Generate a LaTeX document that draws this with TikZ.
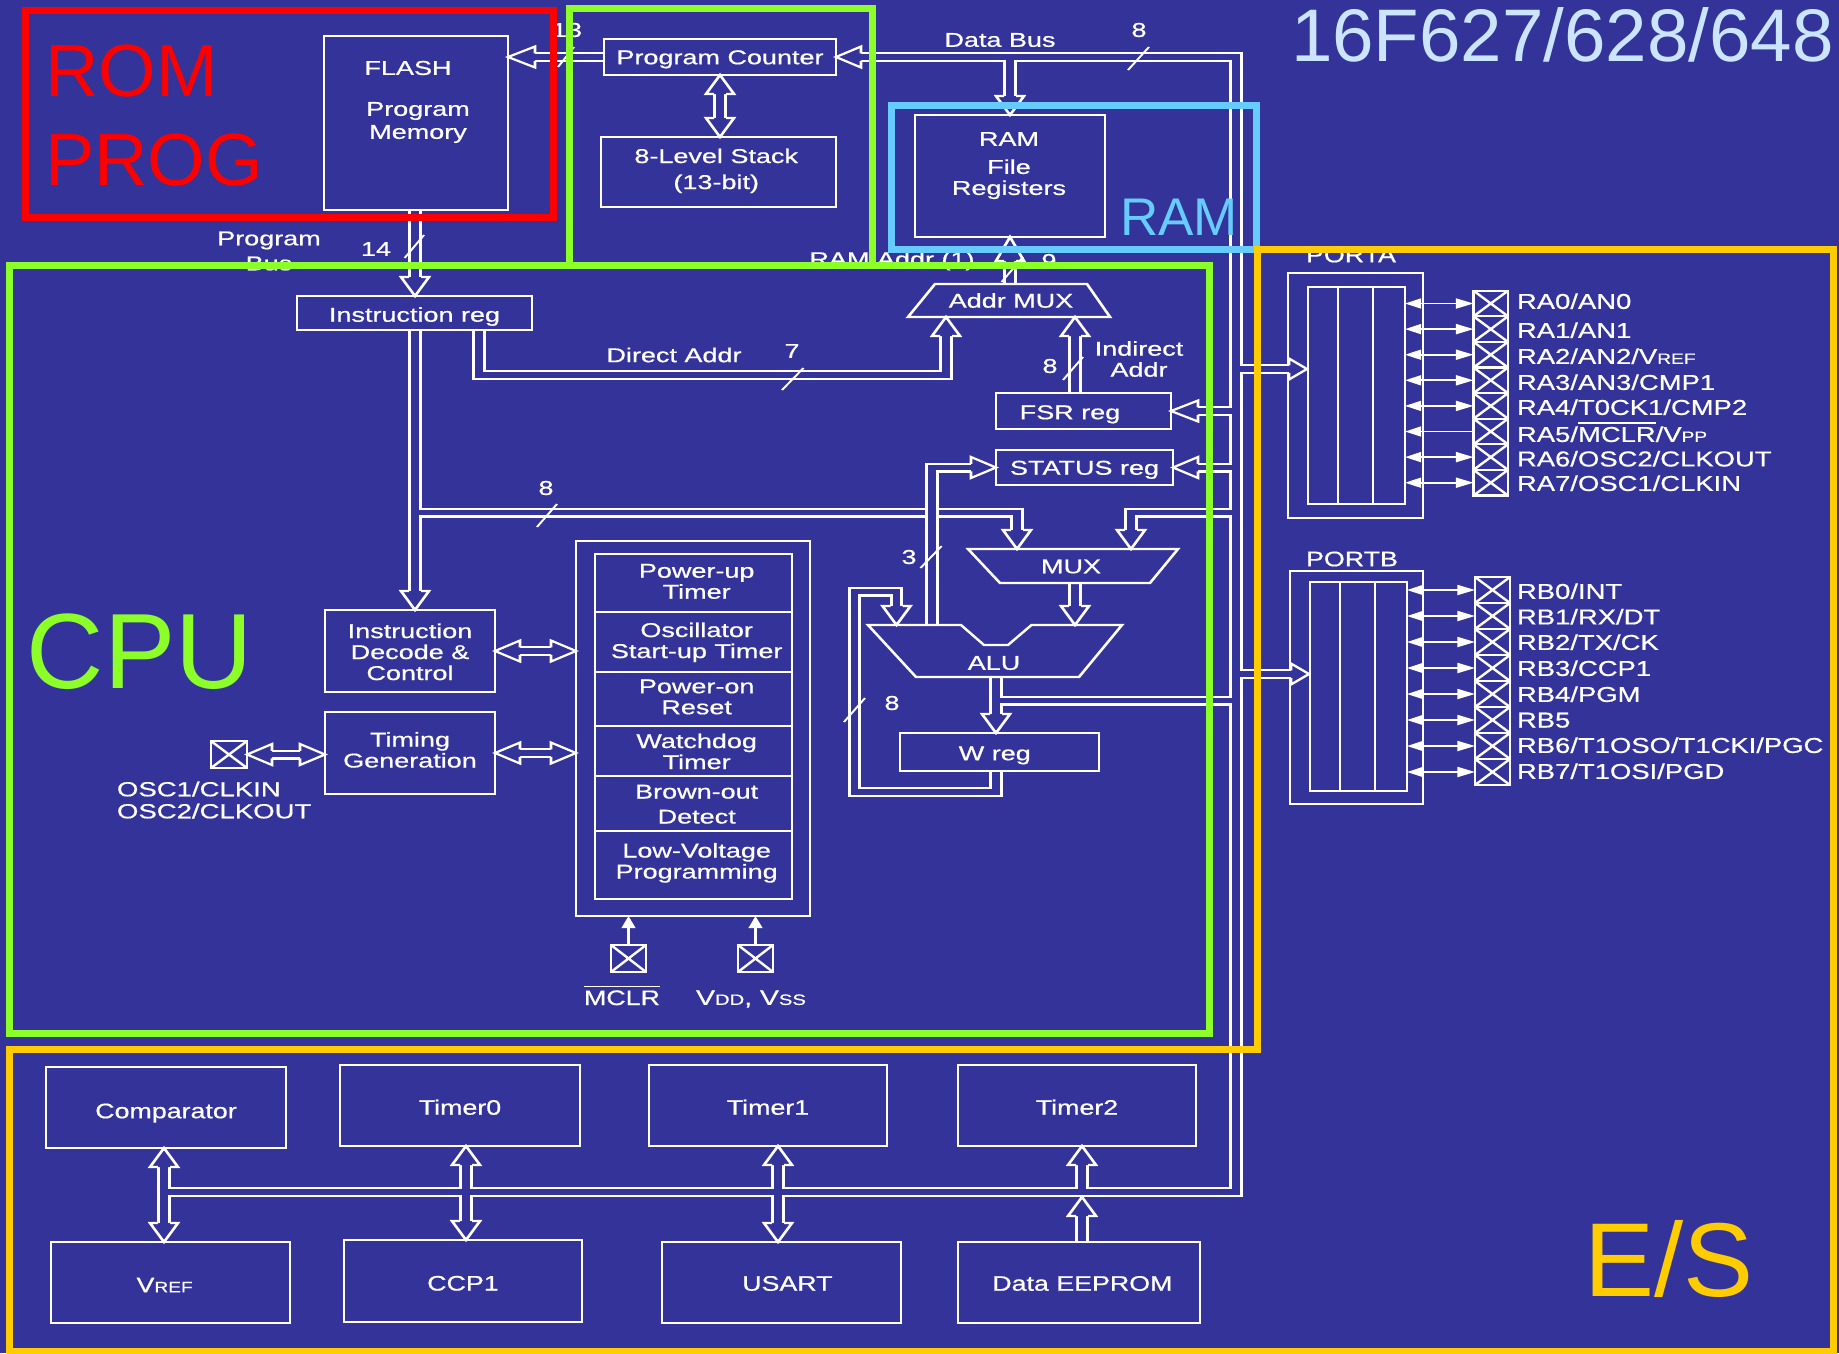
\documentclass[tikz,border=0pt]{standalone}
\usepackage{fontspec}
\setmainfont[FakeBold=0.6]{Liberation Sans}
\newfontfamily\wdfam[FakeStretch=0.945,FakeBold=0.6]{Liberation Sans}
\newfontfamily\bigf{Liberation Sans}
\usetikzlibrary{arrows.meta,calc}
\definecolor{bgc}{RGB}{51,51,153}
\definecolor{fred}{RGB}{255,0,0}
\definecolor{fgreen}{RGB}{140,255,40}
\definecolor{fblue}{RGB}{102,204,255}
\definecolor{forange}{RGB}{255,204,0}
\definecolor{ftitle}{RGB}{204,229,255}
\newcommand\xs{1.35}
\newcommand\wf{\wdfam\fontsize{21}{22}\selectfont}
\newcommand\sm[1]{{\fontsize{15}{15}\selectfont #1}}
\newcommand\ovl[1]{\vbox{\hrule height 1.6pt \kern 3pt \hbox{#1}}}
% single line text whose capitals are centred, shifted down by the option
\newcommand\ct[2][0]{\raisebox{\dimexpr-7.2pt-#1pt\relax}[0pt][0pt]{#2}}
% several centred lines, shifted down by the option
\newcommand\ml[2][0]{\raisebox{\dimexpr-8pt-#1pt\relax}[0pt][0pt]{\begin{tabular}[c]{@{}c@{}}#2\end{tabular}}}
\newcommand\rw[2][0]{\hspace*{4.7pt}\ml[#1]{#2}}
\tikzset{
  box/.style={draw=white,line width=2.1pt,inner sep=0pt,outer sep=0pt,text=white,align=center,font=\fontsize{20}{21}\selectfont},
  txt/.style={inner sep=0pt,outer sep=0pt,text=white,align=center,font=\fontsize{20}{21}\selectfont},
  pintxt/.style={inner sep=0pt,outer sep=0pt,text=white,anchor=west,yshift=-1.2pt,font=\wdfam\fontsize{21.5}{22}\selectfont},
  wire/.style={draw=white,line width=2.1pt,line join=miter},
  tickm/.style={draw=white,line width=1.6pt},
  buso/.style={draw=white,line width=10pt,line cap=butt,line join=miter},
  busi/.style={draw=bgc,line width=5.8pt,line cap=butt,line join=miter},
  head/.style={draw=white,fill=bgc,line width=2.1pt,line join=miter},
  pinarrow/.style={draw=white,line width=1.8pt,{Triangle[length=12pt,width=10pt]}-{Triangle[length=13pt,width=10pt]}},
  pinin/.style={draw=white,line width=1.8pt,{Triangle[length=12pt,width=10pt]}-},
  pinbig/.style={draw=white,line width=1.8pt,-{Triangle[length=12pt,width=10pt]}},
  frame/.style={line width=7pt,line join=miter},
  big/.style={inner sep=0pt,outer sep=0pt,anchor=base west}
}
\newcommand\bx[6]{%
  \pgfmathsetmacro\bw{(#4-#2)/\xs}\pgfmathsetmacro\bh{#5-#3}%
  \node[box,minimum width=\bw pt,minimum height=\bh pt] (#1) at ({(#2+#4)/2},{(#3+#5)/2}) {#6};}
\newcommand\bus[1]{\draw[buso] #1; \draw[busi] #1;}
\newcommand\hU[2][19]{\draw[head] (#2) ++(-6,#1) -- ++(-8,0) -- (#2) -- ++(14,#1) -- ++(-8,0);}
\newcommand\hD[2][19]{\draw[head] (#2) ++(-6,-#1) -- ++(-8,0) -- (#2) -- ++(14,-#1) -- ++(-8,0);}
\newcommand\hL[2][25]{\draw[head] (#2) ++(#1,-3.75) -- ++(0,-6.75) -- (#2) -- ++(#1,10.5) -- ++(0,-6.75);}
\newcommand\hR[2][25]{\draw[head] (#2) ++(-#1,-3.75) -- ++(0,-6.75) -- (#2) -- ++(-#1,10.5) -- ++(0,-6.75);}
\newcommand\pin[5]{%
  \pgfmathsetmacro\bw{(#4-#2)/\xs}\pgfmathsetmacro\bh{#5-#3}%
  \node[box,minimum width=\bw pt,minimum height=\bh pt] (#1) at ({(#2+#4)/2},{(#3+#5)/2}) {};
  \draw[wire] (#1.north west) -- (#1.south east) (#1.north east) -- (#1.south west);}
\begin{document}
\begin{tikzpicture}[x=1pt,y=-1pt]
\path[use as bounding box,fill=bgc] (0,0) rectangle (1839,1353);
\begin{scope}[transform canvas={xscale=1.35},x=0.74074pt]
% top boxes
\bx{flash}{324}{36}{508}{210}{}
\node[txt] (flasht) at (408,68) {FLASH};
\node[txt] (flashm) at (418,122.5) {Program\\[2pt]Memory};
\bx{pc}{604}{39}{836}{75}{\ct{Program Counter}}
\bx{stack}{601}{137}{836}{207}{\hspace*{0pt}\ml[-3]{8-Level Stack\\[5pt](13-bit)}\hspace*{3.4pt}}
\bx{ram}{915}{115}{1105}{237}{}
\node[txt] (ramt) at (1009,165.6) {RAM\\[7pt]File\\Registers};
\bx{ir}{297}{296}{532}{330}{\ct[1.5]{Instruction reg}}
\bx{fsr}{996}{393}{1171}{429}{\ct[1]{FSR reg}\hspace*{20pt}}
\bx{status}{996}{450}{1173}{485}{\ct{STATUS reg}}
\bx{wreg}{900}{733}{1099}{771}{\ct[1]{W reg}\hspace*{7pt}}
\bx{decode}{325}{610}{495}{692}{\ml[1]{Instruction\\Decode \&\\Control}}
\bx{timing}{325}{712}{495}{794}{\ml[-3]{Timing\\Generation}}
\bx{sys}{576}{541}{810}{916}{}
\bx{r1}{595}{554}{792}{612}{\rw[-1.8]{Power-up\\Timer}}
\bx{r2}{595}{612}{792}{672}{\rw[-1.5]{Oscillator\\Start-up Timer}}
\bx{r3}{595}{672}{792}{726}{\rw[-2.3]{Power-on\\Reset}}
\bx{r4}{595}{726}{792}{776}{\rw[0.5]{Watchdog\\Timer}}
\bx{r5}{595}{776}{792}{831}{\rw[0.5]{Brown-out\\[4pt]Detect}}
\bx{r6}{595}{831}{792}{899}{\rw[-4]{Low-Voltage\\Programming}}
% ports
\bx{pao}{1288}{273}{1423}{518}{}
\bx{pbo}{1290}{571}{1423}{804}{}
\bx{pai}{1308}{287}{1405}{504}{}
\bx{pbi}{1310}{582}{1407}{791}{}
\draw[wire] (1338,287) -- (1338,504) (1373,287) -- (1373,504);
\draw[wire] (1340,582) -- (1340,791) (1375,582) -- (1375,791);
\node[txt,font=\wf] (patxt) at (1351,255) {PORTA};
\node[txt,font=\wf] (pbtxt) at (1352,559) {PORTB};
% bottom boxes
\bx{comp}{46}{1067}{286}{1148}{\wf\ct[3.5]{Comparator}}
\bx{t0}{340}{1065}{580}{1146}{\wf\ct[2]{Timer0}}
\bx{t1}{649}{1065}{887}{1146}{\wf\ct[2]{Timer1}}
\bx{t2}{958}{1065}{1196}{1146}{\wf\ct[2]{Timer2}}
\bx{vref}{51}{1242}{290}{1323}{\wf\ct[2.5]{V\sm{REF}}\hspace*{8.7pt}}
\bx{ccp}{344}{1240}{582}{1322}{\wf\ct[2.3]{CCP1}}
\bx{usart}{662}{1242}{901}{1323}{\wf\hspace*{8.7pt}\ct[1]{USART}}
\bx{eep}{958}{1242}{1200}{1323}{\wf\hspace*{5pt}\ct[1]{Data EEPROM}}
% named points
\coordinate (dbus) at (1236,0);
\coordinate (ibus) at (415,0);
\coordinate (ybot) at (0,1192);
\coordinate (yalu) at (0,700.5);
\coordinate (y8) at (0,512.5);
\coordinate (tRAM) at (1010,115);
\coordinate (tRAMb) at (1010,237);
\coordinate (tMA) at (946,317);
\coordinate (tMB) at (1075,317);
\coordinate (tML) at (1017,549);
\coordinate (tMR) at (1131,549);
\coordinate (tAL) at (896.5,625);
\coordinate (tAR) at (1075,625);
\coordinate (tW) at (996,733);
\coordinate (aO) at (996,677);
\coordinate (tPA) at (1307,369);
\coordinate (tPB) at (1309,674);
\coordinate (tCmp) at (164,1148);
\coordinate (tVr) at (164,1242);
\coordinate (tT0) at (466,1146);
\coordinate (tCC) at (466,1240);
\coordinate (tT1) at (778,1146);
\coordinate (tUS) at (778,1242);
\coordinate (tT2) at (1082,1146);
\coordinate (tEE) at (1082,1197);
\coordinate (tIR) at (415,296);
\coordinate (tDC) at (415,610);
\coordinate (tFL) at (508,57);
% buses
\bus{($(pc.west)$) -- ($(tFL)+(18,0)$)}
\bus{($(pc.south)+(0,15)$) -- ($(pc.south |- stack.north)+(0,-15)$)}
\bus{($(pc.east)+(18,0)$) -- (pc.east -| dbus) -- (dbus |- ybot) -- (tCmp |- ybot)
  (tRAM |- pc.east) -- ($(tRAM)+(0,-15)$)
  ($(fsr.east)+(18,0)$) -- (fsr.east -| dbus)
  ($(status.east)+(18,0)$) -- (status.east -| dbus)
  (dbus |- y8) -- (tMR |- y8) -- ($(tMR)+(0,-15)$)
  (dbus |- yalu) -- (tW |- yalu)
  (aO) -- ($(tW)+(0,-15)$)
  (dbus |- tPA) -- ($(tPA)+(-12,0)$)
  (dbus |- tPB) -- ($(tPB)+(-12,0)$)
  ($(tCmp)+(0,15)$) -- ($(tVr)+(0,-15)$)
  ($(tT0)+(0,15)$) -- ($(tCC)+(0,-15)$)
  ($(tT1)+(0,15)$) -- ($(tUS)+(0,-15)$)
  ($(tT2)+(0,15)$) -- (tT2 |- ybot)}
\bus{(tEE |- eep.north) -- ($(tEE)+(0,15)$)}
\bus{(tIR |- flash.south) -- ($(tIR)+(0,-15)$)}
\bus{(tIR |- ir.south) -- ($(tDC)+(0,-15)$)
  (ibus |- y8) -- (tML |- y8) -- ($(tML)+(0,-15)$)}
\bus{(479,330) -- (479,375) -- (tMA |- 0,375) -- ($(tMA)+(0,15)$)}
\bus{(tMB |- fsr.north) -- ($(tMB)+(0,15)$)}
\bus{(tRAMb |- 0,284) -- ($(tRAMb)+(0,15)$)}
\bus{(932,625) -- (932,467.5) -- ($(status.west)+(-18,0)$)}
\bus{(tAR |- 0,583) -- ($(tAR)+(0,-15)$)}
\bus{(tW |- wreg.south) -- (tW |- 0,792) -- (854.5,792) -- (854.5,591.5) -- (tAL |- 0,591.5) -- ($(tAL)+(0,-15)$)}
\bus{($(decode.east)+(18,0)$) -- ($(decode.east -| sys.west)+(-18,0)$)}
\bus{($(timing.east)+(18,0)$) -- ($(timing.east -| sys.west)+(-18,0)$)}
% heads
\hL[27]{tFL}
\hU{pc.south} \hD{pc.south |- stack.north}
\hL{pc.east}
\hD{tRAM} \hU[24]{tRAMb}
\hU{tMA} \hU{tMB}
\hL[27]{fsr.east} \hL{status.east}
\hR{status.west}
\hD{tML} \hD{tMR} \hD{tAL} \hD{tAR} \hD{tW} \hD{tIR} \hD{tDC}
\hR[18]{tPA} \hR[18]{tPB}
\hU{tCmp} \hD{tVr} \hU{tT0} \hD{tCC} \hU{tT1} \hD{tUS} \hU{tT2} \hU{tEE}
\hL{decode.east} \hR{decode.east -| sys.west}
\hL{timing.east} \hR{timing.east -| sys.west}
% re-stroke boxes over bus ends
\foreach \n in {flash,pc,stack,ram,ir,fsr,status,wreg,decode,timing,t0,t1,t2,comp,vref,ccp,usart,eep,sys}
  \draw[wire] (\n.south west) rectangle (\n.north east);
% muxes
\draw[wire] (908,317) -- (935,284) -- (1087,284) -- (1110,317) -- cycle;
\node[txt] (amux) at (1011,300.5) {Addr MUX};
\draw[wire] (968,549) -- (1178,549) -- (1150,583) -- (1000,583) -- cycle;
\node[txt] (mux) at (1071,566.5) {MUX};
\draw[wire] (868,625) -- (961,625) -- (984,645) -- (1008,645) -- (1031.5,625) -- (1122,625) -- (1079,677) -- (916,677) -- cycle;
\node[txt] (alu) at (994,663) {ALU};
% osc pin and system pins
\pin{posc}{211}{741}{247}{768}
\bus{($(posc.east)+(18,0)$) -- ($(posc.east -| timing.west)+(-18,0)$)}
\hL{posc.east} \hR{posc.east -| timing.west}
\node[txt,anchor=west,align=left,font=\fontsize{20.4}{22}\selectfont] (osct) at (117,800) {OSC1/CLKIN\\OSC2/CLKOUT};
\pin{pmclr}{611}{945}{646}{972}
\pin{pvdd}{738}{945}{773}{972}
\draw[pinbig] (pmclr.north) -- (pmclr.north |- sys.south);
\draw[pinbig] (pvdd.north) -- (pvdd.north |- sys.south);
\node[txt,font=\wf] (mclrt) at (622,995.5) {\ovl{MCLR}};
\node[txt,font=\fontsize{21}{22}\selectfont] (vddt) at (751,999) {V\sm{DD}, V\sm{SS}};
% PORTA pins
\foreach \i in {0,...,7}{
  \pgfmathsetmacro\ya{290.7+\i*25.6}\pgfmathsetmacro\yb{\ya+25.6}
  \pin{pa\i}{1473.5}{\ya}{1508}{\yb}
  \pgfmathsetmacro\yc{577+\i*26}\pgfmathsetmacro\yd{\yc+26}
  \pin{pb\i}{1475}{\yc}{1510}{\yd}
  \draw[pinarrow] (pb\i.west -| pbi.east) -- (pb\i.west);
}
\foreach \i in {0,1,2,3,4,6,7}
  \draw[pinarrow] (pa\i.west -| pai.east) -- (pa\i.west);
\draw[pinin] (pa5.west -| pai.east) -- (pa5.west);
\node[pintxt] (la0) at (1517,300) {RA0/AN0};
\node[pintxt] (la1) at (1517,329) {RA1/AN1};
\node[pintxt] (la2) at (1517,355) {RA2/AN2/V\sm{REF}};
\node[pintxt] (la3) at (1517,381) {RA3/AN3/CMP1};
\node[pintxt] (la4) at (1517,406) {RA4/T0CK1/CMP2};
\node[pintxt] (la5) at (1517,431) {RA5/\ovl{MCLR}/V\sm{PP}};
\node[pintxt] (la6) at (1517,457.5) {RA6/OSC2/CLKOUT};
\node[pintxt] (la7) at (1517,482) {RA7/OSC1/CLKIN};
\node[pintxt] (lb0) at (1517,590) {RB0/INT};
\node[pintxt] (lb1) at (1517,615.5) {RB1/RX/DT};
\node[pintxt] (lb2) at (1517,641) {RB2/TX/CK};
\node[pintxt] (lb3) at (1517,667) {RB3/CCP1};
\node[pintxt] (lb4) at (1517,693) {RB4/PGM};
\node[pintxt] (lb5) at (1517,719) {RB5};
\node[pintxt] (lb6) at (1517,744) {RB6/T1OSO/T1CKI/PGC};
\node[pintxt] (lb7) at (1517,770) {RB7/T1OSI/PGD};
% labels and ticks
\node[txt] (l13) at (567,30) {13};
\draw[tickm] (558,67) -- (574,47);
\node[txt] (ldb) at (1000,40) {Data Bus};
\node[txt] (l8a) at (1139,30) {8};
\draw[tickm] (1128,70) -- (1149,47);
\node[txt] (lpb) at (269,251) {Program\\[4pt]Bus};
\node[txt] (l14) at (376,249) {14};
\draw[tickm] (404.6,258) -- (424,235);
\node[txt] (lra) at (892,261) {RAM Addr (1)};
\node[txt] (l9) at (1049,261) {9};
\draw[tickm] (1001.6,282) -- (1023,257);
\node[txt] (lda) at (674,355) {Direct Addr};
\node[txt] (l7) at (792,351) {7};
\draw[tickm] (782,390) -- (803.5,368);
\node[txt] (l8b) at (1050,366) {8};
\draw[tickm] (1063,380) -- (1083,357);
\node[txt] (lia) at (1139,359) {Indirect\\Addr};
\node[txt] (l8c) at (546,488) {8};
\draw[tickm] (537,527) -- (557,504);
\node[txt] (l3) at (909,557) {3};
\draw[tickm] (920.5,568) -- (941.6,546);
\node[txt] (l8d) at (892,703) {8};
\draw[tickm] (844,722) -- (865,698);
\end{scope}
% frames
\draw[frame,fred] (25,10) rectangle (553,217);
\draw[frame,fgreen] (569,8) rectangle (872,265);
\draw[frame,fgreen] (9,265) rectangle (1209,1033);
\draw[frame,fblue] (891,105) rectangle (1256,249);
\draw[frame,forange] (1257,249) -- (1833,249) -- (1833,1351) -- (9,1351) -- (9,1049) -- (1257,1049) -- cycle;
% big labels
\node[big,text=fred,font=\bigf\fontsize{74}{74}\selectfont] (lrom) at (45,96) {ROM};
\node[big,text=fred,font=\bigf\fontsize{74}{74}\selectfont] (lprog) at (45,185) {PROG};
\node[big,text=fgreen,font=\bigf\fontsize{107}{107}\selectfont] (lcpu) at (27,688) {CPU};
\node[big,text=fblue,font=\bigf\fontsize{53}{53}\selectfont] (lram) at (1120,235) {RAM};
\node[big,text=forange,font=\bigf\fontsize{105}{105}\selectfont] (les) at (1584,1296) {E/S};
\node[big,text=ftitle,font=\bigf\fontsize{74.5}{74.5}\selectfont] (ltitle) at (1291,61) {16F627/628/648};
\end{tikzpicture}
\end{document}
